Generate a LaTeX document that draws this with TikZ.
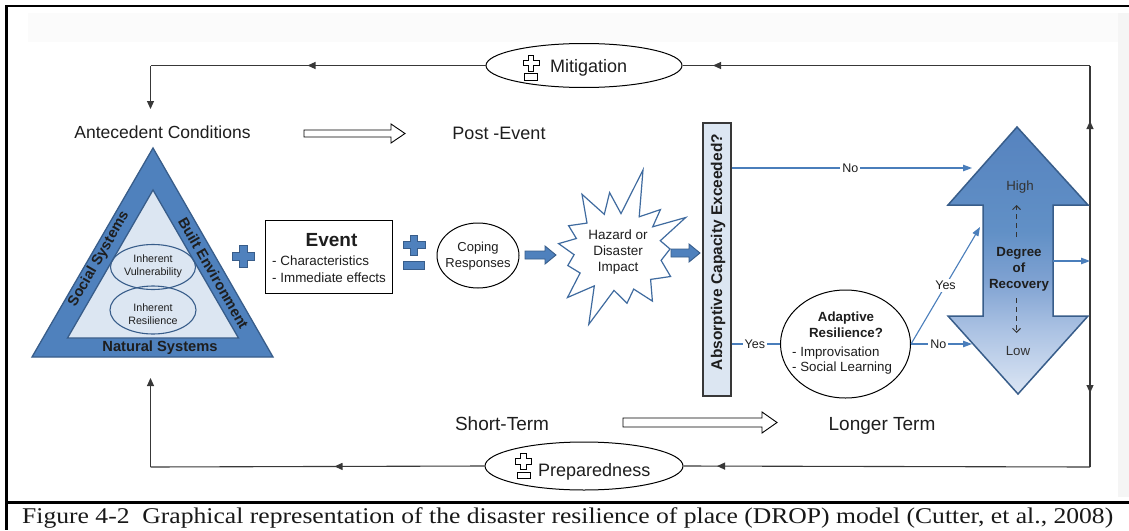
\documentclass[tikz,border=0pt]{standalone}
\usepackage{fontspec}
\setmainfont{Liberation Sans}
\newfontfamily\capfont{Liberation Serif}
\usetikzlibrary{shapes.geometric,arrows.meta,decorations.markings,calc}

\definecolor{ofblue}{HTML}{4F81BD}
\definecolor{ofdark}{HTML}{385D8A}
\definecolor{oflite}{HTML}{DCE6F2}
\definecolor{linkblue}{HTML}{4A7EBB}
\definecolor{loopgray}{HTML}{383838}
\definecolor{txt}{HTML}{1E1E1E}
\definecolor{recA}{HTML}{DCE6F4}
\definecolor{recB}{HTML}{ABC2E3}
\definecolor{recC}{HTML}{7EA1D1}
\definecolor{recD}{HTML}{6190C6}
\definecolor{recE}{HTML}{5683BF}

% vertical fade of the recovery arrow (dark at the top, pale at the bottom)
\pgfdeclareverticalshading{recshade}{100bp}{color(0bp)=(recA); color(25bp)=(recA); color(37bp)=(recB); color(46.5bp)=(recC); color(55.5bp)=(recD); color(75bp)=(recE); color(100bp)=(recE)}

\newcommand\fs[1]{\fontsize{#1}{1.2\dimexpr#1pt\relax}\selectfont}

\tikzset{
  wire/.style={draw=loopgray, line width=1.1pt},
  blink/.style={draw=linkblue, line width=1.1pt, -{Triangle[length=9pt,width=6.5pt]}},
  blacktip/.style={-{Triangle[length=8pt,width=7pt]}},
  markat/.style={postaction={decorate},
    decoration={markings, mark=at position #1 with {\arrow{Triangle[length=8pt,width=7pt]}}}},
  oval/.style={ellipse, draw=black, line width=1pt, fill=white, inner sep=0pt},
  lbl/.style={inner sep=0pt, text=txt},
  yn/.style={fill=white, inner sep=2pt, text=txt, font=\fs{12.5}},
  bluebox/.style={fill=ofblue, draw=ofdark, line width=0.9pt},
  pics/bigplus/.style={code={
    \path[bluebox] (-4,-11) -- (4,-11) -- (4,-4) -- (11,-4) -- (11,4) -- (4,4) -- (4,11)
      -- (-4,11) -- (-4,4) -- (-11,4) -- (-11,-4) -- (-4,-4) -- cycle;}},
  pics/plusminus/.style={code={
    \path[bluebox] (-3.8,-10) -- (3.8,-10) -- (3.8,-3.8) -- (11,-3.8) -- (11,3.8) -- (3.8,3.8) -- (3.8,10)
      -- (-3.8,10) -- (-3.8,3.8) -- (-11,3.8) -- (-11,-3.8) -- (-3.8,-3.8) -- cycle;
    \path[bluebox] (-10.5,16.5) rectangle (10.5,24.5);}},
  pics/hollowpm/.style={code={
    \path[draw=black, line width=0.9pt, fill=white] (-2.8,-8) -- (2.8,-8) -- (2.8,-2.8) -- (8,-2.8) -- (8,2.8)
      -- (2.8,2.8) -- (2.8,8) -- (-2.8,8) -- (-2.8,2.8) -- (-8,2.8) -- (-8,-2.8) -- (-2.8,-2.8) -- cycle;
    \path[draw=black, line width=0.9pt, fill=white] (-6.5,10.5) rectangle (6.5,17);}},
}

\begin{document}
\begin{tikzpicture}[x=1pt, y=-1pt]
\useasboundingbox (0,0) rectangle (1129,530);
\fill[white] (0,0) rectangle (1129,530);
\fill[gray!3] (28,13) rectangle (1118,42);
\fill[gray!8] (1118,13) rectangle (1129,497);

% page frame and caption rule
\draw[line width=2.7pt] (1129,6) -- (6.5,6) -- (6.5,530);
\draw[line width=2.5pt] (6.5,502.5) -- (1129,502.5);

% ---------- feedback loops ----------
\node[oval, minimum width=196pt, minimum height=44pt] (mit) at (584,65.5) {};
\pic at (531,63) {hollowpm};
\node[lbl, anchor=base west, font=\fs{18}] (mittxt) at (550,72.5) {Mitigation};

\node[oval, minimum width=198pt, minimum height=48pt] (prep) at (584,466) {};
\pic at (523.5,461.5) {hollowpm};
\node[lbl, anchor=base west, font=\fs{18}] (preptxt) at (538,476.5) {Preparedness};

\coordinate (rc) at (1090,261);
\coordinate (tr) at (1090,65.5);
\coordinate (tl) at (150.5,65.5);
\coordinate (antip) at (150.5,109);
\coordinate (br) at (1090,467);
\coordinate (bl) at (150.5,467);
\coordinate (triup) at (150.5,378);

\draw[wire, markat=140pt] (rc) -- (tr);
\draw[wire, markat=377pt] (tr) -- (mit.east);
\draw[wire, markat=178pt] (mit.west) -- (tl);
\draw[wire, blacktip] (tl) -- (antip);
\draw[wire, markat=132pt] (rc) -- (br);
\draw[wire, markat=373pt] (br) -- (prep.east);
\draw[wire, markat=150pt] (prep.west) -- (bl);
\draw[wire, blacktip] (bl) -- (triup);

% ---------- time labels ----------
\node[lbl, anchor=base, font=\fs{17.5}] (ante) at (162.5,138.5) {Antecedent Conditions};
\node[lbl, anchor=base, font=\fs{18}] (post) at (499,139) {Post -Event};
\path[draw=black, line width=0.9pt, fill=white]
  (304,130) -- (391,130) -- (391,124) -- (405,133.5) -- (391,143) -- (391,137) -- (304,137) -- cycle;

\node[lbl, anchor=base, font=\fs{19}] (short) at (502,430) {Short-Term};
\node[lbl, anchor=base, font=\fs{19}] (longer) at (882,430) {Longer Term};
\path[draw=black, line width=0.9pt, fill=white]
  (623,418) -- (762,418) -- (762,412) -- (777,422.5) -- (762,433) -- (762,427) -- (623,427) -- cycle;

% ---------- place triangle ----------
\path[fill=ofblue, draw=ofdark, line width=1.3pt] (153,148) -- (273,357) -- (32,357) -- cycle;
\path[fill=oflite, draw=ofdark, line width=1.3pt] (153,190) -- (238.5,338) -- (67.5,338) -- cycle;
\node[ellipse, draw=ofdark, line width=1.1pt, minimum width=85pt, minimum height=45pt, inner sep=0] (vul) at (153,267) {};
\node[ellipse, draw=ofdark, line width=1.1pt, minimum width=86pt, minimum height=48pt, inner sep=0] (res) at (153,310) {};
\node[lbl, align=center, font=\fs{10.7}] (vultxt) at (153,266.5) {Inherent\\Vulnerability};
\node[lbl, align=center, font=\fs{10.7}] (restxt) at (153,314) {Inherent\\Resilience};
\node[lbl, rotate=60, font=\bfseries\fs{14.6}] (soc) at (99,259) {Social Systems};
\node[lbl, rotate=-60, font=\bfseries\fs{14.6}] (built) at (213.5,273) {Built Environment};
\node[lbl, font=\bfseries\fs{14.7}] (nat) at (160,348) {Natural Systems};

\pic at (243,256) {bigplus};

% ---------- event ----------
\node[draw=black, line width=1pt, fill=white, minimum width=127pt, minimum height=73pt, inner sep=0] (evt) at (328.5,256.5) {};
\node[lbl, anchor=base, font=\bfseries\fs{19}] (evttitle) at (331.5,246) {Event};
\node[lbl, anchor=base west, font=\fs{13.4}] (evt1) at (272,265) {- Characteristics};
\node[lbl, anchor=base west, font=\fs{13.4}] (evt2) at (272,282) {- Immediate effects};

\pic at (414,245) {plusminus};

\node[oval, minimum width=82pt, minimum height=65pt] (cope) at (478,255.5) {};
\node[lbl, align=center, font=\fs{13}] (copetxt) at (478,256) {Coping\\Responses};

\path[bluebox] (525,251) -- (545,251) -- (545,246) -- (556,255) -- (545,264) -- (545,259) -- (525,259) -- cycle;

% ---------- hazard burst ----------
\path[draw=linkblue!85!black, line width=1.2pt, fill=white]
  (643,170) -- (639.2,216.8) -- (660.4,209.6) -- (652.7,226.8) -- (685.7,217.5) -- (660.3,240.7)
  -- (670,249) -- (661.1,260.4) -- (670.6,276.5) -- (650.6,279.4) -- (652.4,301.1) -- (633.7,289.1)
  -- (627,303.2) -- (614,290.4) -- (588.8,324.3) -- (594.3,285.9) -- (567.5,297.5) -- (580.1,273)
  -- (567.8,265.5) -- (574.1,254.7) -- (558.6,243.6) -- (576.4,238.5) -- (568.6,225.7) -- (587,223.1)
  -- (582,194.3) -- (604.3,214.3) -- (609.6,192.6) -- (621,213.6) -- cycle;
\node[lbl, align=center, font=\fs{13.5}] (haz) at (618,252) {Hazard or\\Disaster\\Impact};

\path[bluebox] (671,249) -- (689,249) -- (689,244) -- (700,253) -- (689,262) -- (689,257) -- (671,257) -- cycle;

% ---------- absorptive capacity ----------
\node[draw=loopgray, line width=1.1pt, fill=oflite, minimum width=28pt, minimum height=273pt, inner sep=0] (absbox) at (717,259.5) {};
\node[lbl, rotate=90, font=\bfseries\fs{15.5}] (abstxt) at (718,252) {Absorptive Capacity Exceeded?};

% ---------- adaptive resilience ----------
\node[oval, minimum width=130pt, minimum height=108pt] (adapt) at (845.5,344) {};
\node[lbl, anchor=base, font=\bfseries\fs{13.3}] (ad1) at (846,321.5) {Adaptive};
\node[lbl, anchor=base, font=\bfseries\fs{13.3}] (ad2) at (846,337) {Resilience?};
\node[lbl, anchor=base west, font=\fs{13.3}] (ad3) at (792,356) {- Improvisation};
\node[lbl, anchor=base west, font=\fs{13.3}] (ad4) at (792,371.5) {- Social Learning};

% ---------- degree of recovery ----------
\path[shading=recshade, draw=ofdark, line width=1.5pt, line join=miter]
  (1017,127) -- (1088,205) -- (1053,205) -- (1053,316) -- (1088,316) -- (1018,394)
  -- (948,316) -- (983,316) -- (983,205) -- (948,205) -- cycle;
\node[lbl, font=\fs{13.3}, text=black!80] (high) at (1020,187) {High};
\node[lbl, font=\fs{13.3}, text=black!80] (low) at (1018,351) {Low};
\node[lbl, align=center, font=\bfseries\fs{13.3}] (deg) at (1019,269.5) {Degree\\of\\Recovery};
\coordinate (dupA) at (1016.5,237);
\coordinate (dupB) at (1016.5,205);
\coordinate (ddnA) at (1016.5,298);
\coordinate (ddnB) at (1016.5,333);
\draw[black!80, line width=0.9pt, dash pattern=on 5pt off 4pt, -{Straight Barb[length=4pt,width=8pt]}] (dupA) -- (dupB);
\draw[black!80, line width=0.9pt, dash pattern=on 5pt off 4pt, -{Straight Barb[length=4pt,width=8pt]}] (ddnA) -- (ddnB);

\coordinate (noend) at (972,168);
\coordinate (noend2) at (972,344);
\coordinate (yesend) at (980,227);
\coordinate (recout) at (1053,261);

% ---------- decision links ----------
\draw[blink] (absbox.east |- noend) -- node[yn, pos=0.494] (no1) {No} (noend);
\draw[draw=linkblue, line width=1.1pt] (absbox.east |- adapt.west) -- node[yn, pos=0.48] (yes1) {Yes} (adapt.west);
\draw[blink] (adapt.east) -- node[yn, pos=0.45] (no2) {No} (noend2);
\draw[blink] (adapt.east) -- node[yn, pos=0.5] (yes2) {Yes} (yesend);
\draw[blink] (recout) -- (rc);

% ---------- caption ----------
\node[anchor=base west, inner sep=0, text=black!90] (cap) at (22,523.5)
  {\resizebox{1091pt}{\height}{\capfont\fs{22.5}Figure 4-2\ \ Graphical representation of the disaster resilience of place (DROP) model (Cutter, et al., 2008)}};
\end{tikzpicture}
\end{document}
